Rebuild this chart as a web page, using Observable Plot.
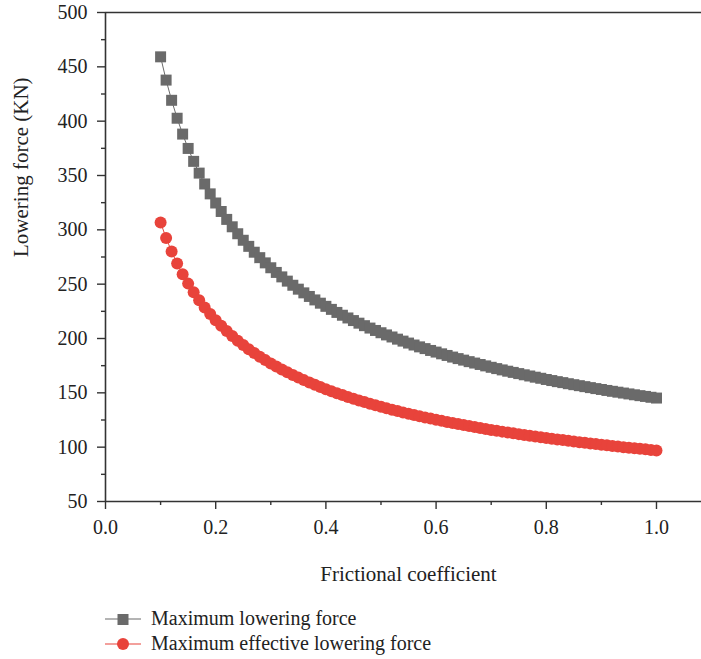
<!DOCTYPE html>
<html>
<head>
<meta charset="utf-8">
<script src="https://cdn.jsdelivr.net/npm/d3@7"></script>
<script src="https://cdn.jsdelivr.net/npm/@observablehq/plot@0.6"></script>
<style>
  html, body { margin: 0; padding: 0; background: #fff; }
  #chart { width: 701px; }
  .legend { margin-top: 16px; font-family: "Liberation Serif", "Times New Roman", Tinos, "DejaVu Serif", serif; font-size: 20px; color: #222; }
  .legend .row { display: flex; align-items: center; height: 25px; }
  .legend svg { margin-left: 105px; margin-right: 10px; }
</style>
</head>
<body>
<div id="chart"></div>
<script>
// Frictional coefficient (x)
const mu = [0.10,0.11,0.12,0.13,0.14,0.15,0.16,0.17,0.18,0.19,
  0.20,0.21,0.22,0.23,0.24,0.25,0.26,0.27,0.28,0.29,
  0.30,0.31,0.32,0.33,0.34,0.35,0.36,0.37,0.38,0.39,
  0.40,0.41,0.42,0.43,0.44,0.45,0.46,0.47,0.48,0.49,
  0.50,0.51,0.52,0.53,0.54,0.55,0.56,0.57,0.58,0.59,
  0.60,0.61,0.62,0.63,0.64,0.65,0.66,0.67,0.68,0.69,
  0.70,0.71,0.72,0.73,0.74,0.75,0.76,0.77,0.78,0.79,
  0.80,0.81,0.82,0.83,0.84,0.85,0.86,0.87,0.88,0.89,
  0.90,0.91,0.92,0.93,0.94,0.95,0.96,0.97,0.98,0.99,1.00];

// Maximum lowering force (KN)
const maxLowering = [459.2,437.8,419.2,402.7,388.1,374.9,363.0,352.2,342.2,333.1,
  324.7,316.9,309.6,302.8,296.4,290.4,284.8,279.4,274.4,269.6,
  265.1,260.8,256.7,252.8,249.0,245.4,242.0,238.7,235.5,232.5,
  229.6,226.8,224.0,221.4,218.9,216.5,214.1,211.8,209.6,207.4,
  205.3,203.3,201.4,199.4,197.6,195.8,194.0,192.3,190.7,189.0,
  187.5,185.9,184.4,182.9,181.5,180.1,178.7,177.4,176.1,174.8,
  173.5,172.3,171.1,169.9,168.8,167.7,166.6,165.5,164.4,163.4,
  162.3,161.3,160.3,159.4,158.4,157.5,156.6,155.7,154.8,153.9,
  153.1,152.2,151.4,150.6,149.8,149.0,148.2,147.4,146.7,145.9,145.2];

// Maximum effective lowering force (KN)
const maxEffective = [306.7,292.5,280.0,269.0,259.2,250.5,242.5,235.3,228.6,222.5,
  216.9,211.7,206.8,202.3,198.0,194.0,190.2,186.7,183.3,180.1,
  177.1,174.2,171.5,168.9,166.4,164.0,161.7,159.5,157.4,155.3,
  153.4,151.5,149.7,147.9,146.2,144.6,143.0,141.5,140.0,138.6,
  137.2,135.8,134.5,133.2,132.0,130.8,129.6,128.5,127.4,126.3,
  125.2,124.2,123.2,122.2,121.3,120.3,119.4,118.5,117.6,116.8,
  115.9,115.1,114.3,113.5,112.8,112.0,111.3,110.5,109.8,109.1,
  108.4,107.8,107.1,106.5,105.8,105.2,104.6,104.0,103.4,102.8,
  102.2,101.7,101.1,100.6,100.0,99.5,99.0,98.5,98.0,97.5,97.0];

const seriesNames = ["Maximum lowering force", "Maximum effective lowering force"];
const xMajorTicks = [0, 0.2, 0.4, 0.6, 0.8, 1.0];
const xMinorTicks = [0.1, 0.3, 0.5, 0.7, 0.9];
const yMajorTicks = [50, 100, 150, 200, 250, 300, 350, 400, 450, 500];
const yMinorTicks = [75, 125, 175, 225, 275, 325, 375, 425, 475];
const xLabel = "Frictional coefficient";
const yLabel = "Lowering force (KN)";

const grayData = mu.map((m, i) => ({mu: m, force: maxLowering[i]}));
const redData = mu.map((m, i) => ({mu: m, force: maxEffective[i]}));

const GRAY = "#6a6a6a";
const RED = "#e8433b";
const AXIS = "#333";
const FONT = "'Liberation Serif', 'Times New Roman', Tinos, 'DejaVu Serif', serif";

const chart = Plot.plot({
  width: 701,
  height: 590,
  marginLeft: 105,
  marginRight: 0,
  marginTop: 12,
  marginBottom: 89,
  x: {domain: [0, 1.0817]},
  y: {domain: [50, 500]},
  style: {fontFamily: FONT, fontSize: "20px", color: "#222", background: "#fff", overflow: "visible"},
  marks: [
    Plot.axisX({ticks: xMajorTicks, tickSize: 8, tickPadding: 10, tickFormat: d3.format(".1f"), label: null, stroke: AXIS, strokeWidth: 1.4, fontSize: 20, fontFamily: FONT}),
    Plot.axisX({ticks: xMinorTicks, tickSize: 4, text: null, label: null, stroke: AXIS, strokeWidth: 1.4}),
    Plot.axisY({ticks: yMajorTicks, tickSize: 8, tickPadding: 10, label: null, stroke: AXIS, strokeWidth: 1.4, fontSize: 20, fontFamily: FONT}),
    Plot.axisY({ticks: yMinorTicks, tickSize: 4, text: null, label: null, stroke: AXIS, strokeWidth: 1.4}),
    Plot.ruleY([50], {stroke: AXIS, strokeWidth: 1.6}),
    Plot.ruleY([500], {stroke: AXIS, strokeWidth: 1.6}),
    Plot.ruleX([0], {stroke: AXIS, strokeWidth: 1.6}),
    Plot.line(grayData, {x: "mu", y: "force", stroke: GRAY, strokeWidth: 1}),
    Plot.dot(grayData, {x: "mu", y: "force", symbol: "square", r: 6.2, fill: GRAY, stroke: "none"}),
    Plot.line(redData, {x: "mu", y: "force", stroke: RED, strokeWidth: 1}),
    Plot.dot(redData, {x: "mu", y: "force", symbol: "circle", r: 6, fill: RED, stroke: "none"}),
    Plot.text([xLabel], {text: d => d, frameAnchor: "bottom", dy: 73, dx: 5, fontSize: 21, fontFamily: FONT, lineAnchor: "middle", fill: "#222"}),
    Plot.text([yLabel], {text: d => d, frameAnchor: "left", rotate: -90, dx: -84, fontSize: 21, fontFamily: FONT, lineAnchor: "middle", fill: "#222"})
  ]
});

document.getElementById("chart").appendChild(chart);

// Legend
const legend = document.createElement("div");
legend.className = "legend";
const swatches = [
  {name: seriesNames[0], color: GRAY, shape: "square"},
  {name: seriesNames[1], color: RED, shape: "circle"}
];
for (const s of swatches) {
  const row = document.createElement("div");
  row.className = "row";
  const ns = "http://www.w3.org/2000/svg";
  const svg = document.createElementNS(ns, "svg");
  svg.setAttribute("width", 36);
  svg.setAttribute("height", 16);
  const ln = document.createElementNS(ns, "line");
  ln.setAttribute("x1", 0); ln.setAttribute("x2", 36);
  ln.setAttribute("y1", 8); ln.setAttribute("y2", 8);
  ln.setAttribute("stroke", s.color); ln.setAttribute("stroke-width", 1.2);
  svg.appendChild(ln);
  let m;
  if (s.shape === "square") {
    m = document.createElementNS(ns, "rect");
    m.setAttribute("x", 12.5); m.setAttribute("y", 3); m.setAttribute("width", 11); m.setAttribute("height", 11);
  } else {
    m = document.createElementNS(ns, "circle");
    m.setAttribute("cx", 18); m.setAttribute("cy", 8); m.setAttribute("r", 6);
  }
  m.setAttribute("fill", s.color);
  svg.appendChild(m);
  row.appendChild(svg);
  const t = document.createElement("span");
  t.textContent = s.name;
  row.appendChild(t);
  legend.appendChild(row);
}
document.getElementById("chart").appendChild(legend);
</script>
</body>
</html>
